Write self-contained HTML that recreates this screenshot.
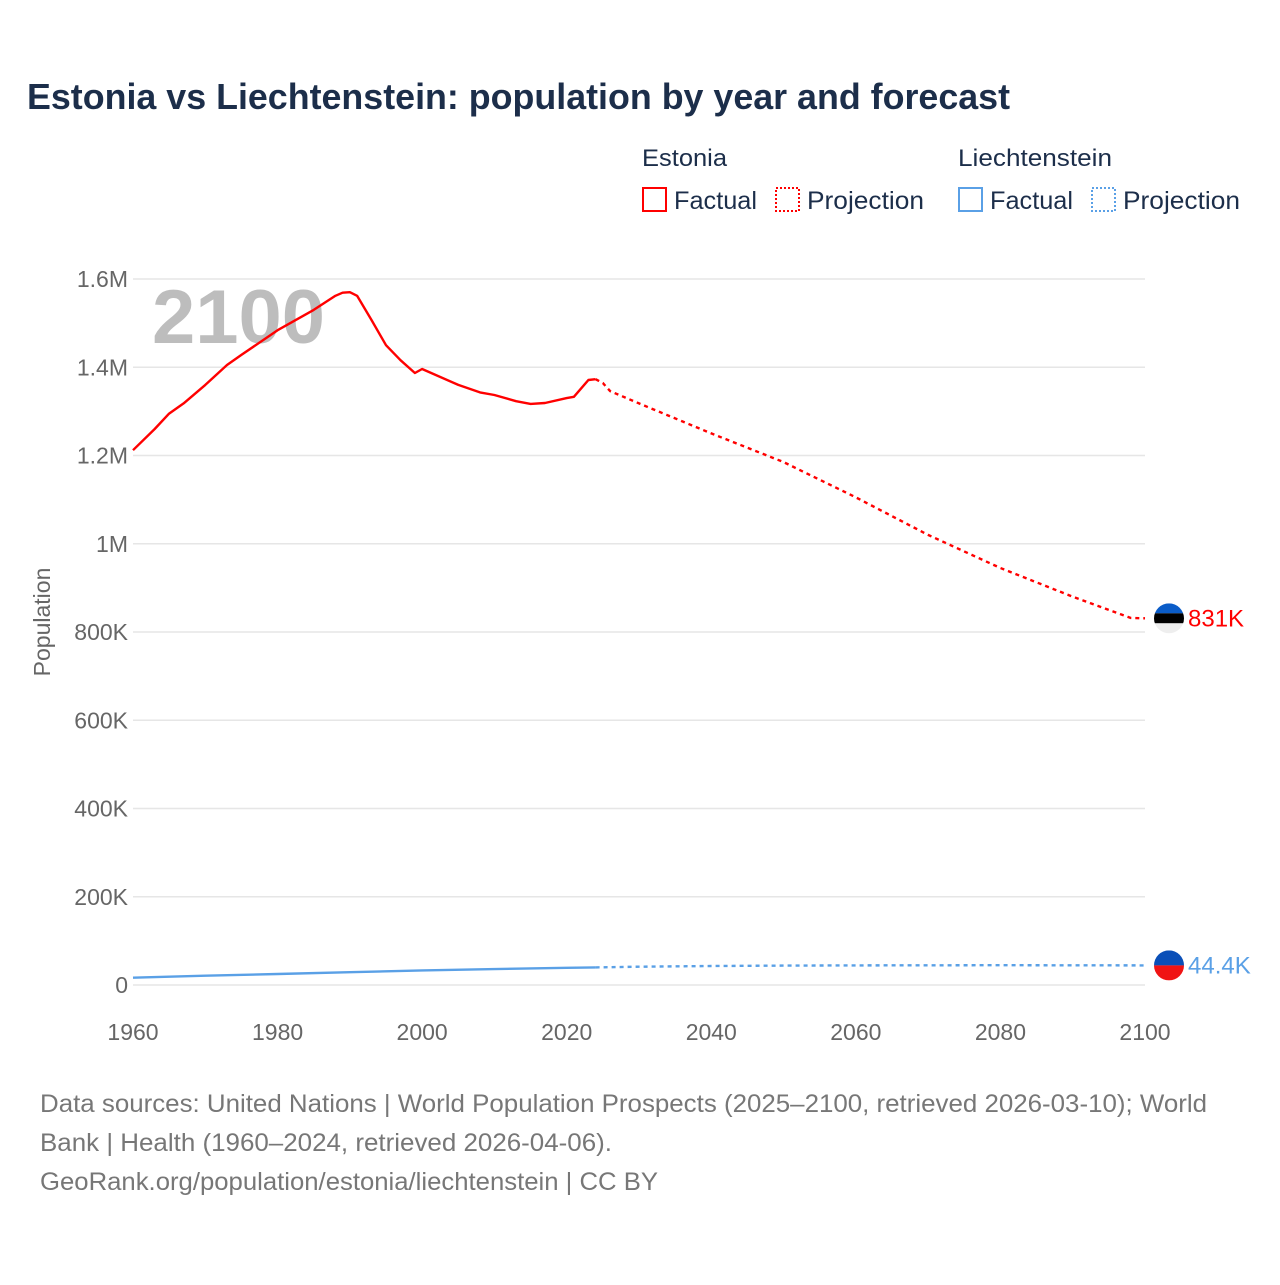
<!DOCTYPE html>
<html><head><meta charset="utf-8"><style>
body{margin:0;background:#fff;font-family:"Liberation Sans",sans-serif;}
svg text{font-family:"Liberation Sans",sans-serif;}
</style></head><body>
<svg id="chart" width="1280" height="1280" viewBox="0 0 1280 1280">
<text x="27" y="109" font-size="36" font-weight="bold" fill="#1c2e4a" textLength="983" lengthAdjust="spacingAndGlyphs">Estonia vs Liechtenstein: population by year and forecast</text>
<g>
<text x="642" y="166" font-size="24" fill="#1c2e4a" textLength="85" lengthAdjust="spacingAndGlyphs">Estonia</text>
<text x="958" y="166" font-size="24" fill="#1c2e4a" textLength="154" lengthAdjust="spacingAndGlyphs">Liechtenstein</text>
<rect x="643" y="188" width="23" height="23" fill="none" stroke="#f00" stroke-width="2"/>
<text x="674" y="209" font-size="25" fill="#1c2e4a" textLength="83" lengthAdjust="spacingAndGlyphs">Factual</text>
<rect x="776" y="188" width="23" height="23" fill="none" stroke="#f00" stroke-width="2" stroke-dasharray="2,2"/>
<text x="807" y="209" font-size="25" fill="#1c2e4a" textLength="117" lengthAdjust="spacingAndGlyphs">Projection</text>
<rect x="959" y="188" width="23" height="23" fill="none" stroke="#5aa0e6" stroke-width="2"/>
<text x="990" y="209" font-size="25" fill="#1c2e4a" textLength="83" lengthAdjust="spacingAndGlyphs">Factual</text>
<rect x="1092" y="188" width="23" height="23" fill="none" stroke="#5aa0e6" stroke-width="2" stroke-dasharray="2,2"/>
<text x="1123" y="209" font-size="25" fill="#1c2e4a" textLength="117" lengthAdjust="spacingAndGlyphs">Projection</text>
</g>
<text x="152" y="343" font-size="76" font-weight="bold" fill="#bdbdbd" textLength="173" lengthAdjust="spacingAndGlyphs">2100</text>
<g id="grid"></g><g id="lines"></g>
<text transform="translate(50,622) rotate(-90)" text-anchor="middle" font-size="23" fill="#666">Population</text>
<g font-size="25" fill="#777">
<text x="40" y="1112" textLength="1167" lengthAdjust="spacingAndGlyphs">Data sources: United Nations | World Population Prospects (2025–2100, retrieved 2026-03-10); World</text>
<text x="40" y="1151" textLength="572" lengthAdjust="spacingAndGlyphs">Bank | Health (1960–2024, retrieved 2026-04-06).</text>
<text x="40" y="1190" textLength="618" lengthAdjust="spacingAndGlyphs">GeoRank.org/population/estonia/liechtenstein | CC BY</text>
</g>
</svg>
<script>
const yTicks=[0,200000,400000,600000,800000,1000000,1200000,1400000,1600000];
const yTickLabels=["0","200K","400K","600K","800K","1M","1.2M","1.4M","1.6M"];
const xTicks=[1960,1980,2000,2020,2040,2060,2080,2100];
const estYears=[1960,1963,1965,1967,1970,1973,1975,1980,1985,1988,1989,1990,1991,1993,1995,1997,1999,2000,2005,2008,2010,2013,2015,2017,2020,2021,2023,2024];
const estVals=[1.212,1.26,1.295,1.318,1.36,1.405,1.428,1.484,1.53,1.562,1.569,1.570,1.562,1.507,1.45,1.416,1.387,1.396,1.36,1.343,1.337,1.323,1.317,1.319,1.33,1.333,1.371,1.373];
const estProjYears=[2024,2025,2026,2030,2040,2050,2060,2070,2080,2090,2098,2100];
const estProjVals=[1.373,1.364,1.346,1.318,1.25,1.185,1.105,1.02,0.945,0.88,0.832,0.831];
const liYears=[1960,1970,1980,1990,2000,2010,2020,2024];
const liVals=[16.5,21,25,29,33,36,39,40];
const liProjYears=[2024,2030,2040,2050,2060,2070,2080,2090,2100];
const liProjVals=[40,41.5,43,44,44.5,44.7,44.8,44.6,44.4];
const X=y=>133+(y-1960)*(1012/140);
const Y=v=>985-v*(706/1600000);
const NS="http://www.w3.org/2000/svg";
const grid=document.getElementById('grid'),lines=document.getElementById('lines');
function mk(tag,attrs,parent,txt){const e=document.createElementNS(NS,tag);for(const k in attrs)e.setAttribute(k,attrs[k]);if(txt!==undefined)e.textContent=txt;parent.appendChild(e);return e;}
yTicks.forEach((t,i)=>{
 const l=mk('line',{x1:133,x2:1145,y1:Y(t),y2:Y(t),stroke:'#e6e6e6','stroke-width':1.5},grid);
 
 
 const tx=mk('text',{x:128,y:Y(t)+8,'text-anchor':'end','font-size':23,fill:'#666'},grid,yTickLabels[i]);
 
 
});
xTicks.forEach(t=>{
 const tx=mk('text',{x:X(t),y:1040,'text-anchor':'middle','font-size':23,fill:'#666'},grid,String(t));
 
 
});
function path(ys,vs,scale,color,dash,name){
 const d=ys.map((y,i)=>(i?'L':'M')+X(y).toFixed(1)+','+Y(vs[i]*scale).toFixed(1)).join('');
 const p=mk('path',{d:d,fill:'none',stroke:color,'stroke-width':2.4,'stroke-dasharray':dash,'stroke-linejoin':'round'},lines);
 
 
}
path(estYears,estVals,1e6,'#f00','none','estonia-factual-line');
path(estProjYears,estProjVals,1e6,'#f00','4,4','estonia-projection-line');
path(liYears,liVals,1e3,'#5aa0e6','none','liechtenstein-factual-line');
path(liProjYears,liProjVals,1e3,'#5aa0e6','4,4','liechtenstein-projection-line');
const ey=Y(estProjVals[estProjVals.length-1]*1e6), ly=Y(liProjVals[liProjVals.length-1]*1e3);
const ex=1169;
const defs=mk('defs',{},lines);
const c1=mk('clipPath',{id:'c1'},defs);mk('circle',{cx:ex,cy:ey,r:15},c1);
const c2=mk('clipPath',{id:'c2'},defs);mk('circle',{cx:ex,cy:ly,r:15},c2);
const f1=mk('g',{'clip-path':'url(#c1)'},lines);


mk('rect',{x:ex-15,y:ey-15,width:30,height:10,fill:'#0a5cc8'},f1);
mk('rect',{x:ex-15,y:ey-5,width:30,height:10,fill:'#000'},f1);
mk('rect',{x:ex-15,y:ey+5,width:30,height:10,fill:'#eee'},f1);
const f2=mk('g',{'clip-path':'url(#c2)'},lines);


mk('rect',{x:ex-15,y:ly-15,width:30,height:15,fill:'#0a4fb8'},f2);
mk('rect',{x:ex-15,y:ly,width:30,height:15,fill:'#f01414'},f2);
const t1=mk('text',{x:1188,y:ey+8,'font-size':24,fill:'#f00'},lines,'831K');


const t2=mk('text',{x:1188,y:ly+8,'font-size':24,fill:'#5aa0e6'},lines,'44.4K');


</script>
</body></html>
